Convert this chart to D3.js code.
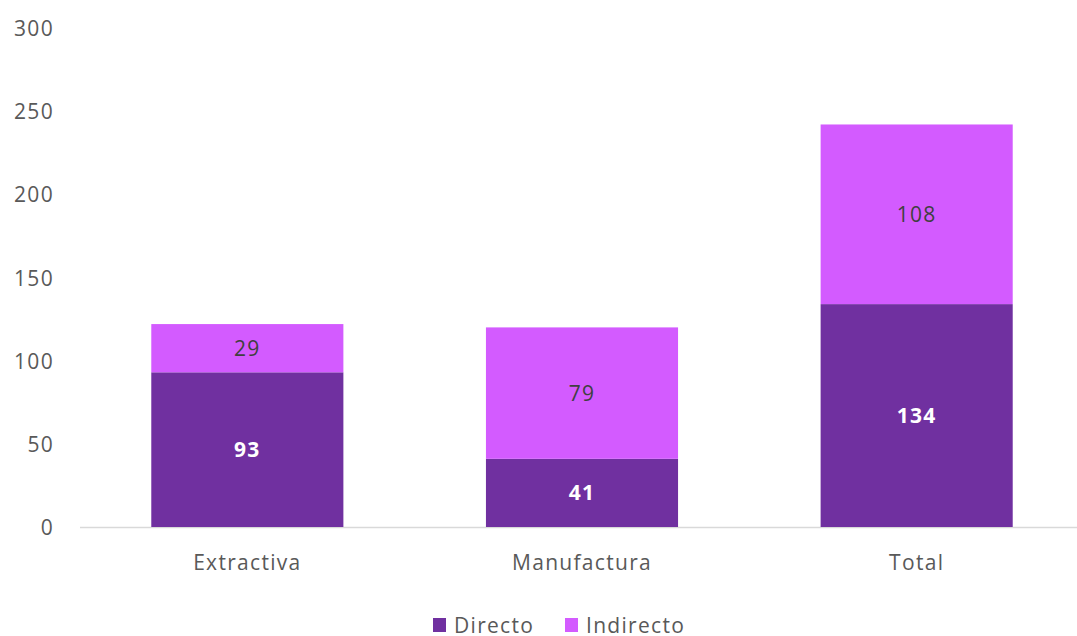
<!DOCTYPE html>
<html><head><meta charset="utf-8">
<script src="https://cdn.jsdelivr.net/npm/d3@7"></script>
<style>body{margin:0;background:#fff}svg{display:block}text{font-family:"Open Sans",sans-serif;letter-spacing:1.3px}</style>
</head><body><svg id="c" width="1077" height="636"></svg>
<script>
const categories = ["Extractiva","Manufactura","Total"];
const directo = [93,41,134];
const indirecto = [29,79,108];
const seriesNames = ["Directo","Indirecto"];
const colors = ["#7030A0","#D35BFF"];
const yTicks = [0,50,100,150,200,250,300];

const svg = d3.select("#c");
const x = d3.scaleBand().domain(categories).range([80,1084]).paddingInner(0.426).paddingOuter(0.213);
const y = d3.scaleLinear().domain([0,300]).range([527,28]);

const rows = categories.map((c,i)=>({cat:c,Directo:directo[i],Indirecto:indirecto[i]}));
const stack = d3.stack().keys(seriesNames)(rows);

// y axis labels
const ya = svg.append("g").attr("transform","translate(54,0)")
  .call(d3.axisLeft(y).tickValues(yTicks).tickSize(0).tickPadding(0));
ya.select(".domain").remove();
ya.selectAll("text").attr("fill","#595959").style("font-size","21px").style("font-family","Open Sans").attr("dy","0.36em");

// x axis
const xa = svg.append("g").attr("transform","translate(0,527)")
  .call(d3.axisBottom(x).tickSize(0).tickPadding(0));
xa.select(".domain").attr("stroke","#D9D9D9").attr("stroke-width",1.5).attr("d","M80,0.5H1077");
xa.selectAll("text").attr("fill","#595959").style("font-size","21px").style("font-family","Open Sans")
  .attr("y",43).attr("dy",null);

stack.forEach((s,si)=>{
  const g = svg.append("g");
  g.selectAll("rect").data(s).join("rect")
    .attr("x",d=>x(d.data.cat)).attr("width",x.bandwidth())
    .attr("y",d=>y(d[1])).attr("height",d=>y(d[0])-y(d[1]))
    .attr("fill",colors[si]);
  g.selectAll("text").data(s).join("text")
    .attr("x",d=>x(d.data.cat)+x.bandwidth()/2)
    .attr("y",d=>(y(d[0])+y(d[1]))/2).attr("dy","0.36em")
    .attr("text-anchor","middle")
    .attr("fill",si===0?"#fff":"#404040")
    .style("font-size","21px").style("font-weight",si===0?"bold":"normal")
    .text(d=>d[1]-d[0]);
});

// legend
const leg = svg.append("g");
const legX = [433,565];
seriesNames.forEach((n,i)=>{
  leg.append("rect").attr("x",legX[i]).attr("y",618).attr("width",13).attr("height",14).attr("fill",colors[i]);
  leg.append("text").attr("x",legX[i]+21).attr("y",633)
    .attr("fill","#595959").style("font-size","21px").text(n);
});
</script></body></html>
